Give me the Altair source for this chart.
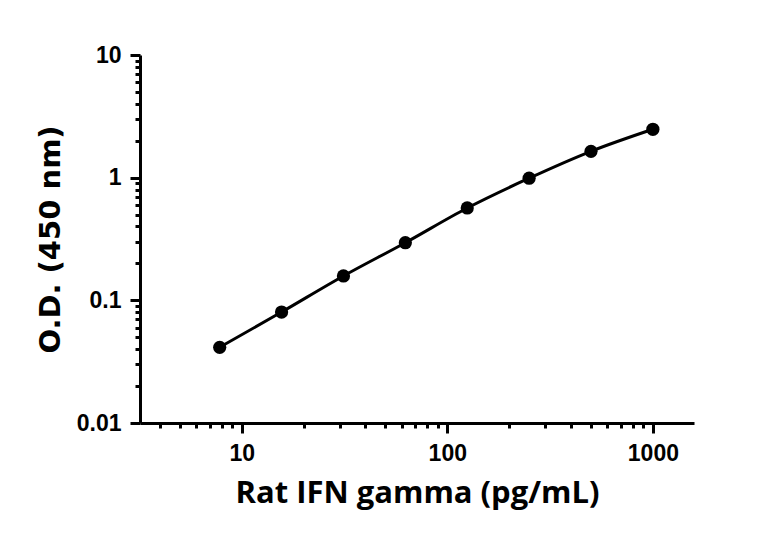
import altair as alt
import pandas as pd

conc = [7.8125, 15.625, 31.25, 62.5, 125, 250, 500, 1000]
od = [0.0414, 0.0803, 0.158, 0.295, 0.566, 0.99, 1.64, 2.48]

x_ticks = [4, 5, 6, 7, 8, 9, 10, 20, 30, 40, 50, 60, 70, 80, 90, 100,
           200, 300, 400, 500, 600, 700, 800, 900, 1000]
y_ticks = [0.01, 0.02, 0.03, 0.04, 0.05, 0.06, 0.07, 0.08, 0.09, 0.1,
           0.2, 0.3, 0.4, 0.5, 0.6, 0.7, 0.8, 0.9, 1,
           2, 3, 4, 5, 6, 7, 8, 9, 10]

df = pd.DataFrame({"conc": conc, "od": od})

major = "abs(log(datum.value)/LN10 - round(log(datum.value)/LN10)) < 1e-6"
tick_size = {"condition": {"test": major, "value": 10}, "value": 5}
label_expr = f"({major}) ? datum.label : ''"

x_enc = alt.X(
    "conc:Q",
    scale=alt.Scale(type="log", domain=[3.2, 1585], nice=False),
    axis=alt.Axis(
        values=x_ticks, format="~g", labelExpr=label_expr,
        tickSize=tick_size, title="Rat IFN gamma (pg/mL)",
        titleX=277, titleY=79, titleBaseline="alphabetic",
        titleFont="Open Sans", titleFontSize=31,
        labelPadding=9, labelFlush=False, labelOverlap=False,
    ),
)
y_enc = alt.Y(
    "od:Q",
    scale=alt.Scale(type="log", domain=[0.01, 10], nice=False),
    axis=alt.Axis(
        values=y_ticks, format="~g", labelExpr=label_expr,
        tickSize=tick_size, title="O.D. (450 nm)",
        titleX=-81, titleY=184, titleAngle=-90, titleAlign="center",
        titleBaseline="alphabetic",
        titleFont="DejaVu Sans", titleFontSize=29,
        labelPadding=9, labelFlush=False, labelOverlap=False,
    ),
)

line = alt.Chart(df).mark_line(color="black", strokeWidth=3, interpolate="monotone").encode(x=x_enc, y=y_enc)
pts = alt.Chart(df).mark_point(filled=True, color="black", size=175, opacity=1).encode(x="conc:Q", y="od:Q")

chart = (line + pts).properties(
    width=554, height=368,
    autosize=alt.AutoSizeParams(type="none"),
    padding={"left": 132, "top": 47, "right": 66, "bottom": 103},
).configure_view(stroke=None).configure_axis(
    grid=False,
    domainColor="black", domainWidth=3,
    tickColor="black", tickWidth=3,
    labelFont="Liberation Sans", labelFontWeight="bold", labelFontSize=23, labelColor="black",
    titleFontWeight="bold", titleColor="black",
)

chart.save("out.html", embed_options={"renderer": "svg", "actions": False})
